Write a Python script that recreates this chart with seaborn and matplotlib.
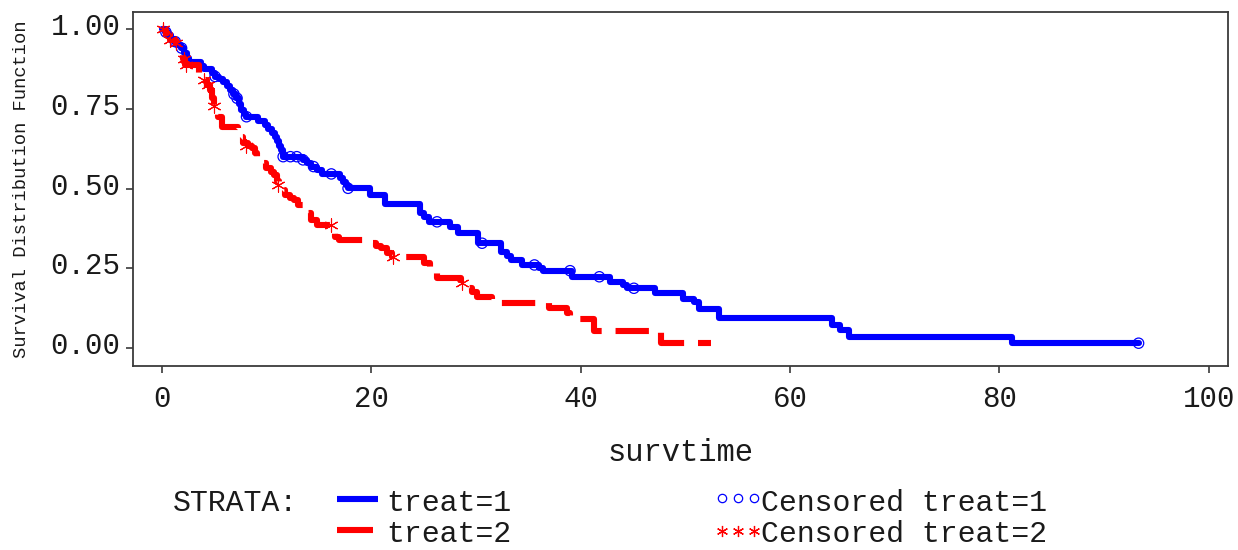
import numpy as np
import pandas as pd
import matplotlib
matplotlib.use("Agg")
import matplotlib.pyplot as plt
import matplotlib.transforms as mtransforms
from matplotlib.lines import Line2D
import seaborn as sns

# ---------------- data ----------------
# treat=1 : Kaplan-Meier step curve (time, survival after the step)
t1_time = [0.0, 0.3, 0.6, 0.9, 1.2, 1.5, 1.8, 2.1, 2.4, 2.6, 3.8, 4.0, 4.8, 5.1,
           5.5, 5.9, 6.2, 6.5, 6.8, 7.1, 7.4, 7.6, 7.9, 8.1, 9.2, 9.9, 10.2, 10.5,
           10.8, 11.0, 11.2, 11.4, 11.6, 13.5, 13.9, 14.3, 14.8, 15.3, 17.0, 17.3,
           17.6, 17.8, 19.9, 21.3, 24.7, 25.1, 25.5, 27.5, 28.3, 30.2, 32.4, 33.0,
           33.4, 34.4, 36.0, 36.4, 39.2, 42.8, 44.1, 44.4, 47.1, 49.8, 50.8, 51.3,
           53.2, 64.0, 64.8, 65.6, 81.2, 93.3]
t1_surv = [1.000, 0.990, 0.980, 0.970, 0.960, 0.950, 0.940, 0.925, 0.910, 0.897,
           0.885, 0.875, 0.862, 0.851, 0.843, 0.835, 0.822, 0.809, 0.796, 0.783,
           0.765, 0.746, 0.735, 0.725, 0.713, 0.699, 0.686, 0.673, 0.662, 0.650,
           0.635, 0.620, 0.600, 0.590, 0.580, 0.569, 0.557, 0.546, 0.533, 0.522,
           0.510, 0.501, 0.480, 0.452, 0.423, 0.410, 0.396, 0.381, 0.360, 0.329,
           0.303, 0.290, 0.277, 0.261, 0.250, 0.243, 0.224, 0.209, 0.198, 0.188,
           0.172, 0.153, 0.146, 0.122, 0.094, 0.073, 0.057, 0.036, 0.016, 0.016]

# treat=2 : Kaplan-Meier step curve
t2_time = [0.0, 0.4, 0.8, 1.4, 1.6, 1.75, 2.0, 2.2, 3.6, 4.0, 4.3, 4.6, 4.8, 5.0,
           5.1, 5.4, 5.8, 7.3, 7.6, 7.8, 8.2, 8.6, 8.9, 9.1, 9.5, 10.0, 10.4, 10.7,
           11.0, 11.2, 11.5, 11.8, 12.3, 12.6, 13.0, 13.5, 13.8, 14.3, 14.8, 16.6,
           16.9, 19.9, 20.5, 20.9, 21.5, 22.0, 25.1, 25.6, 26.3, 28.6, 29.1, 29.6,
           30.1, 31.5, 31.8, 37.0, 38.7, 39.0, 41.3, 47.7, 52.5]
t2_surv = [1.000, 0.985, 0.965, 0.955, 0.940, 0.924, 0.905, 0.887, 0.856, 0.840,
           0.825, 0.809, 0.783, 0.760, 0.746, 0.725, 0.692, 0.675, 0.663, 0.642,
           0.632, 0.626, 0.610, 0.595, 0.580, 0.564, 0.553, 0.543, 0.525, 0.510,
           0.495, 0.480, 0.470, 0.464, 0.449, 0.435, 0.423, 0.402, 0.386, 0.350,
           0.339, 0.329, 0.320, 0.313, 0.297, 0.287, 0.266, 0.235, 0.219, 0.204,
           0.188, 0.175, 0.162, 0.151, 0.143, 0.125, 0.110, 0.091, 0.055, 0.018,
           0.018]

# censored observations
c1_time = [0.4, 1.3, 1.9, 5.1, 6.9, 7.2, 8.1, 11.6, 12.3, 12.9, 13.5, 14.5, 16.2,
           17.8, 26.3, 30.6, 35.6, 39.0, 41.8, 45.1, 93.3]
c1_surv = [0.990, 0.960, 0.940, 0.851, 0.796, 0.783, 0.725, 0.600, 0.600, 0.600,
           0.590, 0.569, 0.546, 0.501, 0.396, 0.329, 0.261, 0.243, 0.224, 0.188,
           0.016]
c2_time = [0.15, 0.8, 1.4, 2.1, 2.3, 4.0, 4.4, 5.0, 8.1, 11.1, 16.2, 22.1, 28.7]
c2_surv = [1.000, 0.965, 0.955, 0.905, 0.887, 0.840, 0.825, 0.760, 0.632, 0.510,
           0.386, 0.287, 0.204]

x_ticks = [0, 20, 40, 60, 80, 100]
y_ticks = [0.0, 0.25, 0.5, 0.75, 1.0]
y_tick_labels = ["0.00", "0.25", "0.50", "0.75", "1.00"]

# ---------------- style ----------------
sns.set_theme(style="ticks")
plt.rcParams["font.family"] = ["Liberation Mono", "DejaVu Sans Mono", "DejaVu Sans"]
plt.rcParams["lines.scale_dashes"] = False
BLUE = "#0000FF"
RED = "#FF0000"
AX_COL = "#3a3a3a"
TXT = "#1a1a1a"

W, H = 1238, 550
fig = plt.figure(figsize=(W / 100, H / 100), dpi=100)
ax = fig.add_axes([133 / W, 1 - 366 / H, (1228 - 133) / W, (366 - 12) / H])

df1 = pd.DataFrame({"survtime": t1_time, "surv": t1_surv})
df2 = pd.DataFrame({"survtime": t2_time, "surv": t2_surv})
dc1 = pd.DataFrame({"survtime": c1_time, "surv": c1_surv})
dc2 = pd.DataFrame({"survtime": c2_time, "surv": c2_surv})

sns.lineplot(data=df1, x="survtime", y="surv", ax=ax, estimator=None, sort=False,
             drawstyle="steps-post", color=BLUE, linewidth=4.4,
             solid_capstyle="round", solid_joinstyle="round")
sns.lineplot(data=df2, x="survtime", y="surv", ax=ax, estimator=None, sort=False,
             drawstyle="steps-post", color=RED, linewidth=4.4,
             linestyle=(0, (24, 10)), dash_capstyle="butt")
sns.scatterplot(data=dc1, x="survtime", y="surv", ax=ax, marker="o",
                facecolor="none", edgecolor=BLUE, s=55, linewidth=0.9, zorder=4)
sns.scatterplot(data=dc2, x="survtime", y="surv", ax=ax, marker=(6, 2, 0),
                color=RED, edgecolor=RED, s=90, linewidth=0.8, zorder=4)

ax.set_xlim(-2.74, 101.84)
ax.set_ylim(-0.0554, 1.053)
ax.set_xticks(x_ticks)
ax.set_yticks(y_ticks)
ax.set_yticklabels(y_tick_labels)

for sp in ax.spines.values():
    sp.set_visible(True)
    sp.set_color(AX_COL)
    sp.set_linewidth(1.3)

ax.tick_params(axis="both", direction="out", length=5, width=1.2, color=AX_COL,
               labelsize=21, labelcolor=TXT)
ax.tick_params(axis="y", pad=4)
ax.tick_params(axis="x", pad=9)

# shift y tick labels upward a bit, as in the reference
off = mtransforms.ScaledTranslation(0, 0.05, fig.dpi_scale_trans)
for lab in ax.get_yticklabels():
    lab.set_transform(lab.get_transform() + off)

ax.set_xlabel("survtime", fontsize=22, labelpad=18, color=TXT)
ax.set_ylabel("Survival Distribution Function", fontsize=13.5, labelpad=15,
              color=TXT)

# ---------------- legend (below the axes) ----------------
def fx(px):
    return px / W

def fy(py):
    return 1 - py / H

fs = 21.5
row1 = 511   # text baseline (px from top)
row2 = 542
fig.text(fx(173), fy(row1), "STRATA:", fontsize=fs, va="baseline", ha="left", color=TXT)
fig.add_artist(Line2D([fx(337), fx(378)], [fy(row1 - 12)] * 2, color=BLUE, lw=4.4,
                      solid_capstyle="butt", transform=fig.transFigure))
fig.text(fx(386), fy(row1), "treat=1", fontsize=fs, va="baseline", ha="left", color=TXT)
fig.add_artist(Line2D([fx(337), fx(373)], [fy(row2 - 12)] * 2, color=RED, lw=4.4,
                      solid_capstyle="butt", transform=fig.transFigure))
fig.text(fx(386), fy(row2), "treat=2", fontsize=fs, va="baseline", ha="left", color=TXT)

fig.add_artist(Line2D([fx(722), fx(738), fx(754)], [fy(row1 - 13)] * 3, ls="none",
                      marker="o", ms=6, mfc="none", mec=BLUE, mew=0.9,
                      transform=fig.transFigure))
fig.text(fx(761), fy(row1), "Censored treat=1", fontsize=fs, va="baseline", ha="left",
         color=TXT)
fig.add_artist(Line2D([fx(722), fx(738), fx(754)], [fy(row2 - 11)] * 3, ls="none",
                      marker=(6, 2, 0), ms=8, mec=RED, mew=0.9,
                      transform=fig.transFigure))
fig.text(fx(761), fy(row2), "Censored treat=2", fontsize=fs, va="baseline", ha="left",
         color=TXT)

fig.savefig("out.png", dpi=100)
